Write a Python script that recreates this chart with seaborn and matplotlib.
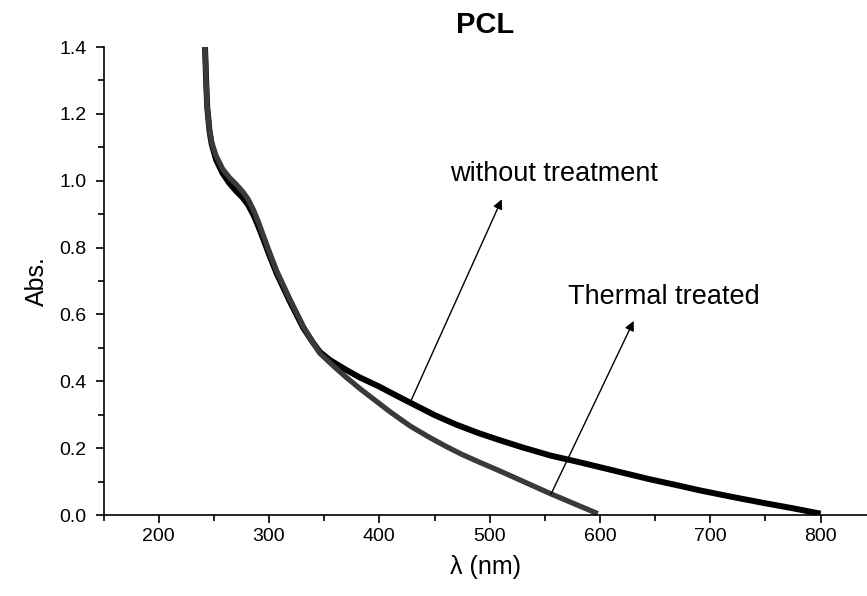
import matplotlib
matplotlib.use("Agg")
import matplotlib.pyplot as plt
import seaborn as sns
import pandas as pd
from matplotlib.ticker import MultipleLocator, FormatStrFormatter

# Data
wl_untreated = [242, 243, 244, 246, 248, 252, 258, 264, 270, 276, 281, 286, 290, 295, 300, 307,
                319, 331, 340, 346, 355, 370, 382, 400, 415, 428, 450, 470, 490, 509, 530, 555,
                580, 600, 625, 645, 670, 690, 720, 750, 775, 800]
abs_untreated = [1.40, 1.30, 1.22, 1.15, 1.11, 1.063, 1.022, 0.993, 0.970, 0.950, 0.928, 0.897,
                 0.866, 0.824, 0.780, 0.722, 0.638, 0.560, 0.515, 0.488, 0.464, 0.434, 0.412,
                 0.384, 0.358, 0.336, 0.299, 0.270, 0.245, 0.224, 0.202, 0.178, 0.159, 0.143,
                 0.123, 0.107, 0.089, 0.074, 0.054, 0.035, 0.020, 0.004]

wl_thermal = [242, 243, 244, 246, 248, 252, 258, 264, 270, 276, 281, 286, 290, 295, 300, 307,
              319, 331, 340, 346, 360, 370, 382, 395, 410, 428, 445, 460, 475, 490, 509, 530,
              555, 575, 598]
abs_thermal = [1.40, 1.30, 1.22, 1.152, 1.115, 1.075, 1.035, 1.010, 0.990, 0.968, 0.945, 0.912,
               0.880, 0.835, 0.790, 0.730, 0.645, 0.565, 0.515, 0.484, 0.441, 0.412, 0.379,
               0.346, 0.308, 0.266, 0.233, 0.206, 0.181, 0.159, 0.132, 0.101, 0.064, 0.036,
               0.004]

title = "PCL"
xlabel = "\u03bb (nm)"
ylabel = "Abs."
label_untreated = "without treatment"
label_thermal = "Thermal treated"

sns.set_style("ticks")
plt.rcParams['font.family'] = ['Liberation Sans', 'DejaVu Sans']
plt.rcParams['text.color'] = 'black'
plt.rcParams['axes.labelcolor'] = 'black'
plt.rcParams['xtick.color'] = 'black'
plt.rcParams['ytick.color'] = 'black'

fig = plt.figure(figsize=(8.67, 5.96), dpi=100)
ax = fig.add_axes([0.1194, 0.1359, 0.8806, 0.7852])

df_u = pd.DataFrame({"wl": wl_untreated, "abs": abs_untreated})
df_t = pd.DataFrame({"wl": wl_thermal, "abs": abs_thermal})

sns.lineplot(data=df_u, x="wl", y="abs", ax=ax, color="black", linewidth=4.3,
             sort=False, solid_capstyle="butt", solid_joinstyle="round")
sns.lineplot(data=df_t, x="wl", y="abs", ax=ax, color="#3a3a3a", linewidth=3.8,
             sort=False, solid_capstyle="butt", solid_joinstyle="round")

ax.set_xlim(150, 842)
ax.set_ylim(0, 1.4)
ax.xaxis.set_major_locator(MultipleLocator(100))
ax.xaxis.set_minor_locator(MultipleLocator(50))
ax.yaxis.set_major_locator(MultipleLocator(0.2))
ax.yaxis.set_minor_locator(MultipleLocator(0.1))
ax.yaxis.set_major_formatter(FormatStrFormatter('%.1f'))

ax.tick_params(which='major', direction='out', length=6, width=1.2, labelsize=14,
               colors='black', labelcolor='black')
ax.tick_params(axis='y', which='major', pad=6)
ax.tick_params(which='minor', direction='out', length=4, width=1.2, colors='black')
for s in ['left', 'bottom']:
    ax.spines[s].set_linewidth(1.2)
    ax.spines[s].set_color('black')
sns.despine(ax=ax, top=True, right=True)

ax.set_xlabel(xlabel, fontsize=18, labelpad=7, color='black')
ax.set_ylabel(ylabel, fontsize=18, labelpad=8, color='black')
ax.set_title(title, fontsize=21, fontweight='bold', pad=10, color='black')

ax.annotate("", xy=(512, 0.952), xytext=(427.6, 0.334),
            arrowprops=dict(arrowstyle='-|>', lw=1.0, color='black', mutation_scale=14))
ax.annotate("", xy=(631.6, 0.588), xytext=(554.5, 0.055),
            arrowprops=dict(arrowstyle='-|>', lw=1.0, color='black', mutation_scale=14))
ax.text(558, 1.02, label_untreated, fontsize=19.5, ha='center', va='center', color='black')
ax.text(658, 0.652, label_thermal, fontsize=19.5, ha='center', va='center', color='black')

fig.savefig("out.png", dpi=100)
